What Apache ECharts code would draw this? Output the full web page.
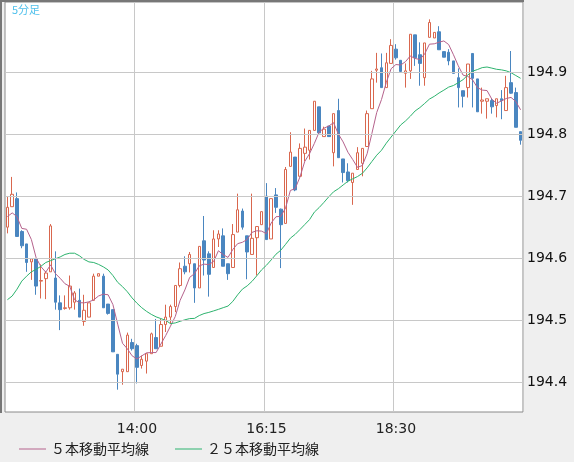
<!DOCTYPE html>
<html><head><meta charset="utf-8">
<script src="https://cdn.jsdelivr.net/npm/echarts@6/dist/echarts.min.js"></script>
<style>html,body{margin:0;padding:0;background:#efefef}#c{width:574px;height:462px}</style>
</head><body><div id="c"></div>
<script>
const openV=[194.650,194.683,194.696,194.643,194.623,194.594,194.599,194.563,194.567,194.578,194.568,194.528,194.519,194.520,194.529,194.532,194.498,194.505,194.532,194.571,194.571,194.526,194.517,194.445,194.417,194.417,194.464,194.459,194.427,194.434,194.446,194.472,194.458,194.493,194.505,194.522,194.556,194.587,194.591,194.591,194.552,194.628,194.607,194.585,194.631,194.636,194.591,194.585,194.642,194.676,194.636,194.606,194.633,194.654,194.700,194.631,194.702,194.679,194.656,194.748,194.763,194.732,194.769,194.774,194.806,194.844,194.796,194.813,194.770,194.838,194.760,194.739,194.722,194.743,194.753,194.780,194.841,194.903,194.907,194.875,194.914,194.937,194.919,194.898,194.902,194.960,194.928,194.891,194.956,194.955,194.965,194.933,194.932,194.918,194.891,194.870,194.875,194.930,194.889,194.853,194.853,194.854,194.846,194.857,194.838,194.883,194.867,194.804];
const closeV=[194.682,194.703,194.635,194.620,194.593,194.599,194.555,194.564,194.576,194.652,194.529,194.517,194.520,194.555,194.544,194.505,194.516,194.528,194.571,194.575,194.520,194.511,194.449,194.413,194.421,194.476,194.454,194.424,194.437,194.446,194.478,194.454,194.493,194.505,194.522,194.556,194.583,194.578,194.606,194.552,194.619,194.597,194.574,194.631,194.639,194.587,194.575,194.638,194.678,194.650,194.610,194.632,194.651,194.675,194.630,194.696,194.682,194.654,194.743,194.771,194.710,194.777,194.779,194.806,194.853,194.802,194.808,194.796,194.833,194.762,194.738,194.725,194.737,194.770,194.777,194.833,194.889,194.905,194.875,194.915,194.943,194.923,194.901,194.902,194.961,194.923,194.914,194.947,194.980,194.964,194.936,194.924,194.918,194.898,194.875,194.861,194.913,194.890,194.836,194.855,194.857,194.844,194.857,194.854,194.875,194.866,194.811,194.790];
const lowV=[194.640,194.683,194.635,194.616,194.578,194.565,194.541,194.535,194.534,194.578,194.517,194.484,194.517,194.517,194.517,194.505,194.491,194.505,194.532,194.571,194.520,194.509,194.449,194.388,194.396,194.417,194.451,194.398,194.422,194.414,194.446,194.454,194.458,194.481,194.494,194.513,194.553,194.574,194.577,194.528,194.552,194.572,194.538,194.585,194.618,194.587,194.565,194.585,194.642,194.646,194.566,194.606,194.572,194.654,194.630,194.631,194.673,194.584,194.656,194.748,194.708,194.732,194.756,194.759,194.806,194.802,194.796,194.796,194.748,194.762,194.722,194.722,194.686,194.743,194.732,194.780,194.841,194.883,194.875,194.875,194.914,194.920,194.901,194.875,194.889,194.910,194.878,194.878,194.956,194.955,194.936,194.924,194.911,194.898,194.843,194.843,194.859,194.843,194.836,194.833,194.825,194.833,194.827,194.824,194.838,194.865,194.811,194.783];
const highV=[194.699,194.731,194.706,194.645,194.623,194.599,194.600,194.590,194.579,194.655,194.611,194.540,194.540,194.572,194.547,194.551,194.541,194.528,194.575,194.575,194.575,194.526,194.517,194.445,194.421,194.480,194.470,194.462,194.443,194.446,194.480,194.502,194.502,194.525,194.525,194.556,194.593,194.603,194.610,194.591,194.619,194.668,194.611,194.645,194.645,194.648,194.591,194.655,194.704,194.680,194.636,194.704,194.651,194.675,194.721,194.696,194.713,194.680,194.747,194.803,194.763,194.785,194.809,194.806,194.853,194.844,194.812,194.813,194.833,194.857,194.760,194.753,194.737,194.779,194.777,194.838,194.902,194.931,194.930,194.931,194.953,194.945,194.919,194.914,194.961,194.960,194.948,194.947,194.985,194.964,194.974,194.933,194.937,194.918,194.906,194.870,194.913,194.930,194.889,194.875,194.857,194.858,194.857,194.871,194.894,194.934,194.875,194.804];
// moving-average values before enough candles are visible
const ma5Head=[194.667,194.673,194.667,194.648];
const ma25Head=[194.533,194.539,194.550,194.563,194.571,194.578,194.582,194.587,194.593,194.596,194.599,194.602,194.606,194.608,194.608,194.604,194.598,194.594,194.593,194.590,194.586,194.581,194.572,194.561];
const startTime=[11,45];
const tickLabels=['14:00','16:15','18:30'];
const yTicks=[194.4,194.5,194.6,194.7,194.8,194.9];

const n=openV.length;
const cats=[];
for(let i=0;i<n;i++){const m=startTime[0]*60+startTime[1]+5*i;cats.push(Math.floor(m/60)+':'+String(m%60).padStart(2,'0'));}
const kData=openV.map((o,i)=>[o,closeV[i],lowV[i],highV[i]]);
function ma(p,head){return closeV.map((c,i)=>{if(i<p-1)return head[i];let s=0;for(let j=i-p+1;j<=i;j++)s+=closeV[j];return +(s/p).toFixed(4);});}
const ma5=ma(5,ma5Head), ma25=ma(25,ma25Head);
const isTick=(idx,val)=>tickLabels.includes(val);

const chart=echarts.init(document.getElementById('c'));
chart.setOption({
  animation:false,
  backgroundColor:'#efefef',
  grid:{left:5,top:2,width:518,height:410,show:true,backgroundColor:'#fff',borderColor:'#8a8a8a',borderWidth:1},
  xAxis:{type:'category',data:cats,boundaryGap:true,
    axisLine:{show:false},axisTick:{show:false},
    axisLabel:{interval:isTick,color:'#222',fontSize:14,fontFamily:'DejaVu Sans',margin:10},
    splitLine:{show:true,interval:isTick,lineStyle:{color:'#c8c8c8',width:1}}},
  yAxis:{type:'value',min:194.352,max:195.013,position:'right',
    axisLine:{show:false},axisTick:{show:false},axisLabel:{show:false},splitLine:{show:false}},
  legend:{left:14,top:437,itemGap:26,itemWidth:27,itemHeight:1,icon:'rect',
    textStyle:{color:'#222',fontSize:14,fontFamily:'Noto Sans CJK JP'},
    data:['５本移動平均線','２５本移動平均線']},
  graphic:[
    {type:'rect',shape:{x:0,y:0,width:2,height:413},style:{fill:'#777'},z:100},
    {type:'rect',shape:{x:0,y:0,width:524,height:2},style:{fill:'#777'},z:100},
    {type:'text',left:12,top:4,style:{text:'5分足',fill:'#4fc0ec',font:'11px "Noto Sans CJK JP"'},z:100}
  ],
  series:[
    {type:'candlestick',data:kData,barWidth:3,
      itemStyle:{color:'#fff',color0:'#4a86c0',borderColor:'#d9674e',borderColor0:'#4a86c0',borderWidth:1},
      markLine:{silent:true,symbol:'none',animation:false,
        lineStyle:{color:'#c8c8c8',type:'solid',width:1},
        label:{position:'end',formatter:p=>p.value.toFixed(1),color:'#111',fontSize:14,fontFamily:'DejaVu Sans',distance:4},
        data:yTicks.map(v=>({yAxis:v}))}},
    {name:'５本移動平均線',type:'line',data:ma5,symbol:'none',lineStyle:{color:'#b5628c',width:1},itemStyle:{color:'#b5628c'}},
    {name:'２５本移動平均線',type:'line',data:ma25,symbol:'none',lineStyle:{color:'#2db36e',width:1},itemStyle:{color:'#2db36e'}}
  ]
});
</script></body></html>
